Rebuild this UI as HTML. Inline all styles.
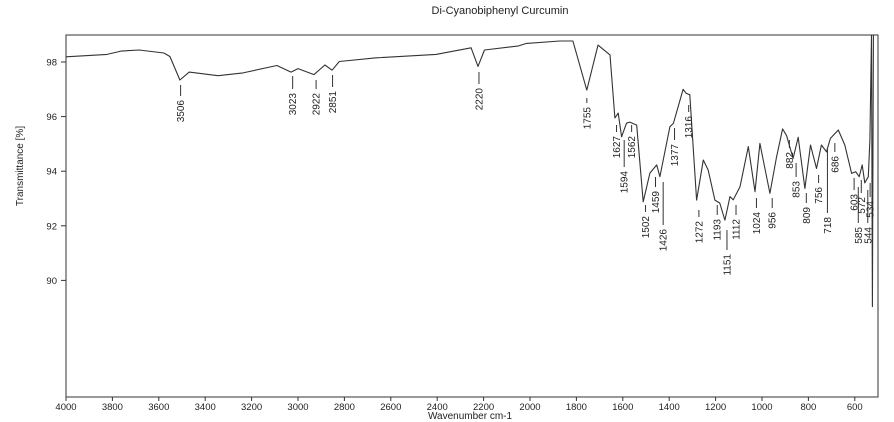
<!DOCTYPE html>
<html><head><meta charset="utf-8"><style>
body{margin:0;background:#fff;}
svg{display:block;font-family:"Liberation Sans",Arial,sans-serif;}
</style></head><body>
<svg id="chart" width="894" height="422" viewBox="0 0 894 422"></svg>
<script>
const xTicks=[4000,3800,3600,3400,3200,3000,2800,2600,2400,2200,2000,1800,1600,1400,1200,1000,800,600];
const yTicks=[98,96,94,92,90];
const wavenumbers=[4000,3823,3763,3685,3578,3552,3509,3469,3345,3237,3091,3030,3000,2931,2884,2853,2822,2668,2405,2254,2224,2196,2049,2015,1871,1815,1755,1707,1655,1634,1620,1605,1584,1570,1540,1512,1483,1454,1440,1397,1382,1340,1328,1311,1282,1253,1232,1203,1182,1160,1138,1124,1095,1059,1030,1009,966,937,911,894,866,844,815,791,765,744,722,705,671,643,614,596,581,568,557,542,535,528,524,520];
const transmittance=[98.19,98.28,98.4,98.44,98.33,98.2,97.34,97.63,97.5,97.6,97.87,97.63,97.76,97.54,97.89,97.7,98.02,98.15,98.28,98.52,97.84,98.44,98.59,98.68,98.77,98.77,96.97,98.62,98.26,95.95,96.13,95.26,95.76,95.8,95.69,92.88,93.93,94.23,93.8,95.63,95.75,97.0,96.86,96.8,92.94,94.41,94.04,92.94,92.83,92.21,93.07,92.95,93.43,94.9,93.25,95.02,93.19,94.53,95.55,95.3,94.47,95.24,93.37,94.96,94.1,94.96,94.71,95.2,95.51,94.96,93.92,93.98,93.8,94.23,93.57,93.8,95.14,98.99,89.04,98.99];
const peakLabels=["3506","3023","2922","2851","2220","1755","1627","1594","1562","1502","1459","1426","1377","1316","1272","1193","1151","1112","1024","956","882","853","809","756","718","686","603","585","572","544","534"];
const peakTickTop=[85,76,80,75,72,98,125,140,125,205,177,182,128,105,210,205,230,205,198,198,140,163,193,175,148,143,178,187,180,190,183];
const peakTickBottom=[96,89,89,87,84,103,132,167,132,212,187,225,140,112,217,215,250,215,208,208,148,177,203,183,213,152,190,223,193,223,197];

const L=66,R=878,T=35,B=397;
const X=w=>L+(4000-w)*(R-L)/(4000-500);
const Y=t=>62+(98-t)*27.3;
const svg=document.getElementById('chart');
const NS='http://www.w3.org/2000/svg';
function mk(tag,attrs,parent){const e=document.createElementNS(NS,tag);for(const k in attrs)e.setAttribute(k,attrs[k]);(parent||svg).appendChild(e);return e;}

let t=mk('text',{x:500,y:14,'text-anchor':'middle','font-size':11,fill:'#222'});t.textContent='Di-Cyanobiphenyl Curcumin';



let frame=mk('rect',{x:L,y:T,width:R-L,height:B-T,fill:'none',stroke:'#333','stroke-width':1});



xTicks.forEach(v=>{
  const x=X(v);
  let ln=mk('line',{x1:x,x2:x,y1:B,y2:B+4,stroke:'#333'});
  
  
  let tx=mk('text',{x:x,y:B+13,'text-anchor':'middle','font-size':9.5,fill:'#222'});tx.textContent=v;
  
  
});
yTicks.forEach(v=>{
  const y=Y(v);
  let ln=mk('line',{x1:L-5,x2:L,y1:y,y2:y,stroke:'#333'});
  
  
  let tx=mk('text',{x:L-9,y:y+3.5,'text-anchor':'end','font-size':9.5,fill:'#222'});tx.textContent=v;
  
  
});
let xt=mk('text',{x:470,y:419,'text-anchor':'middle','font-size':10,fill:'#222'});xt.textContent='Wavenumber cm-1';


let yt=mk('text',{x:0,y:0,'text-anchor':'middle','font-size':10,fill:'#222',transform:'translate(23,166) rotate(-90)'});yt.textContent='Transmittance [%]';



const d=wavenumbers.map((w,i)=>(i?'L':'M')+X(w).toFixed(1)+','+Y(transmittance[i]).toFixed(1)).join(' ');
let p=mk('path',{d:d,fill:'none',stroke:'#333','stroke-width':1.1,'stroke-linejoin':'round'});



peakLabels.forEach((lab,i)=>{
  const x=X(parseFloat(lab));
  let ln=mk('line',{x1:x,x2:x,y1:peakTickTop[i],y2:peakTickBottom[i],stroke:'#333','stroke-width':1});
  
  
  const ty=peakTickBottom[i]+4;
  let tx=mk('text',{x:0,y:0,'text-anchor':'end','font-size':10,fill:'#222',transform:`translate(${x+3.5},${ty}) rotate(-90)`});
  tx.textContent=lab;
  
  
});
</script>
</body></html>
